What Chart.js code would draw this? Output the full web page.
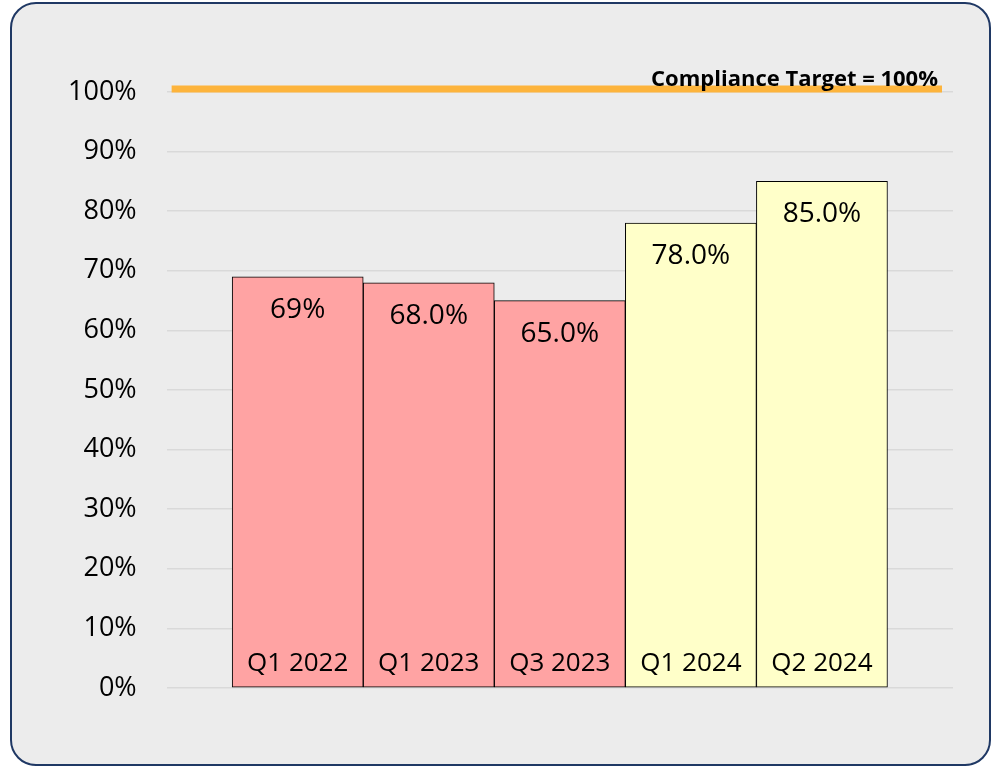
<!DOCTYPE html>
<html>
<head>
<meta charset="utf-8">
<script src="https://cdn.jsdelivr.net/npm/chart.js@4/dist/chart.umd.min.js"></script>
<style>
  html, body { margin: 0; padding: 0; background: #ffffff; }
  #frame {
    position: absolute; left: 10px; top: 2px; width: 977px; height: 760px;
    border: 2px solid #1f3864; border-radius: 26px; background: #ececec;
  }
  #wrap { position: absolute; left: 0; top: 0; width: 992px; height: 766px; }
</style>
</head>
<body>
<div id="frame"></div>
<div id="wrap"><canvas id="chart" width="992" height="766"></canvas></div>
<script>
// data
const categories = ['Q1 2022', 'Q1 2023', 'Q3 2023', 'Q1 2024', 'Q2 2024'];
const values = [69, 68, 65, 78, 85];
const valueLabels = ['69%', '68.0%', '65.0%', '78.0%', '85.0%'];
const barColors = ['#ffa3a3', '#ffa3a3', '#ffa3a3', '#ffffc9', '#ffffc9'];
const targetValue = 100;
const targetLabel = 'Compliance Target = 100%';
const yTicks = [0, 10, 20, 30, 40, 50, 60, 70, 80, 90, 100];

const FONT = "'Open Sans', sans-serif";

// target line + text labels inside bars
const labelsPlugin = {
  id: 'labels',
  afterDatasetsDraw(chart) {
    const ctx = chart.ctx;
    const x = chart.scales.x;
    const y = chart.scales.y;
    const meta = chart.getDatasetMeta(0);

    ctx.save();
    // target line
    const ty = y.getPixelForValue(targetValue) - 3;
    ctx.strokeStyle = '#fdb43c';
    ctx.lineWidth = 7;
    ctx.beginPath();
    ctx.moveTo(x.left + 5, ty);
    ctx.lineTo(x.right - 11, ty);
    ctx.stroke();

    ctx.fillStyle = '#000';
    ctx.font = 'bold 22px ' + FONT;
    ctx.textAlign = 'right';
    ctx.textBaseline = 'alphabetic';
    ctx.fillText(targetLabel, x.right - 15, ty - 3);

    // value labels and category names
    meta.data.forEach((bar, i) => {
      ctx.font = '28px ' + FONT;
      ctx.textAlign = 'center';
      ctx.textBaseline = 'middle';
      ctx.fillText(valueLabels[i], bar.x, bar.y + 33);

      ctx.font = '26px ' + FONT;
      ctx.textBaseline = 'alphabetic';
      ctx.fillText(categories[i], bar.x, y.bottom - 17);
    });
    ctx.restore();
  }
};

new Chart(document.getElementById('chart'), {
  type: 'bar',
  data: {
    datasets: [{
      data: categories.map((c, i) => ({ x: i, y: values[i] })),
      backgroundColor: barColors,
      borderColor: '#000',
      borderWidth: 1,
      borderSkipped: false,
      barPercentage: 1,
      categoryPercentage: 1
    }]
  },
  options: {
    responsive: false,
    animation: false,
    layout: { padding: { left: 38, right: 39, top: 92, bottom: 78 } },
    plugins: {
      legend: { display: false },
      tooltip: { enabled: false }
    },
    scales: {
      x: {
        type: 'linear',
        offset: false,
        min: -1,
        max: categories.length,
        display: false
      },
      y: {
        min: 0,
        max: 100,
        afterBuildTicks(axis) {
          axis.ticks = yTicks.map(v => ({ value: v }));
        },
        border: { display: false },
        grid: { color: '#d9d9d9', lineWidth: 1.5, drawTicks: false },
        ticks: {
          padding: 30,
          color: '#000',
          font: { family: FONT, size: 27 },
          callback: v => v + '%'
        }
      }
    }
  },
  plugins: [labelsPlugin]
});
</script>
</body>
</html>
